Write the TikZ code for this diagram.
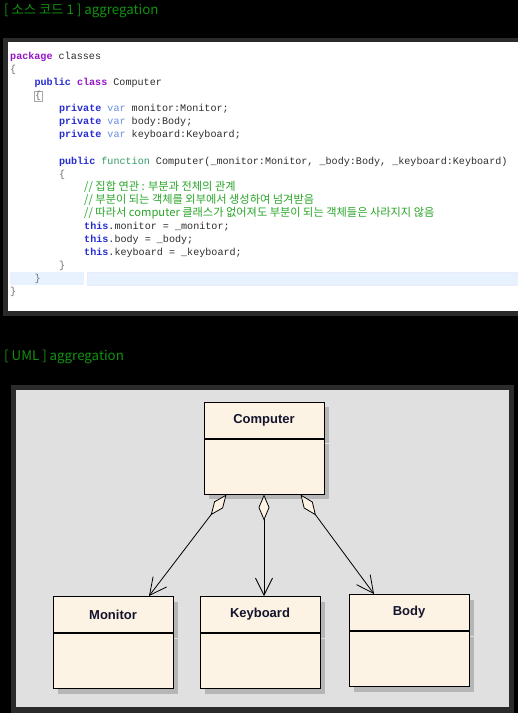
\documentclass[tikz,border=0pt]{standalone}
\usepackage{fontspec}
\setmainfont{Liberation Sans}
\newfontfamily\codefont{Liberation Mono}
\newfontfamily\krfont{Noto Sans CJK KR}
\usepackage{xcolor}
\usetikzlibrary{arrows.meta,positioning,shadows}

\definecolor{titlegreen}{RGB}{16,145,16}
\definecolor{kwpurple}{RGB}{150,20,200}
\definecolor{kwblue}{RGB}{40,45,210}
\definecolor{kwvar}{RGB}{105,140,225}
\definecolor{kwfunc}{RGB}{51,153,102}
\definecolor{cmtgreen}{RGB}{40,165,40}
\definecolor{codetext}{RGB}{45,45,45}
\definecolor{bracegray}{RGB}{110,110,110}
\definecolor{framegray}{RGB}{43,43,43}
\definecolor{hlblue}{RGB}{232,242,254}
\definecolor{umlbg}{RGB}{224,224,224}
\definecolor{clsfill}{RGB}{253,243,228}
\definecolor{clsshadow}{RGB}{182,182,182}
\definecolor{clstext}{RGB}{20,20,45}

% keyword helpers for the listing
\newcommand{\kwpk}[1]{\textcolor{kwpurple}{\bfseries #1}}
\newcommand{\kwpb}[1]{\textcolor{kwblue}{\bfseries #1}}
\newcommand{\kwvr}[1]{\textcolor{kwvar}{#1}}
\newcommand{\kwfn}[1]{\textcolor{kwfunc}{#1}}
\newcommand{\brc}[1]{\textcolor{bracegray}{#1}}

\begin{document}
\begin{tikzpicture}[
  x=1pt, y=-1pt,
  title/.style={anchor=west, inner sep=0pt, text=titlegreen, font=\krfont\fontsize{13.3}{15}\selectfont},
  code/.style={anchor=west, inner sep=0pt, text=codetext, font=\codefont\fontsize{10.1}{12}\selectfont},
  cmt/.style={anchor=west, inner sep=0pt, text=cmtgreen, font=\krfont\fontsize{11.2}{13}\selectfont},
  clsshade/.style={drop shadow={shadow xshift=5pt, shadow yshift=-5pt, fill=clsshadow, opacity=1}},
  clshead/.style={draw, line width=1pt, fill=clsfill, minimum width=120pt, minimum height=36pt, inner sep=0pt, text=clstext, font=\bfseries\fontsize{13}{15}\selectfont, clsshade},
  clsbody/.style={draw, line width=1pt, fill=clsfill, minimum width=120pt, minimum height=55pt, inner sep=0pt, clsshade},
  agg/.style={{Diamond[fill=clsfill, length=26pt, width=11pt]}-{Straight Barb[length=17pt, width=17pt]}, line width=0.8pt}
]
\useasboundingbox (0,0) rectangle (518,713);
\fill[black] (0,0) rectangle (518,713);

% source panel
\node[title] (t1) at (4,11) {[ 소스 코드 1 ] aggregation};
\fill[framegray] (3,38) rectangle (518,316);
\fill[white] (8,42) rectangle (518,311);
\fill[hlblue] (10,272) rectangle (84,285);
\filldraw[fill=hlblue, draw=blue!8] (87,272) rectangle (518,285);

\node[code] (c0) at (10,57) {\kwpk{package} classes};
\node[code] (c1) at (10,70.1) {\brc{\{}};
\node[code] (c2) at (34.4,83.1) {\kwpb{public} \kwpk{class} Computer};
\node[code, draw=bracegray!60, line width=0.4pt, inner sep=0.6pt] (c3) at (34.4,96.2) {\brc{\{}};
\node[code] (c4) at (58.8,109.2) {\kwpb{private} \kwvr{var} monitor:Monitor;};
\node[code] (c5) at (58.8,122.3) {\kwpb{private} \kwvr{var} body:Body;};
\node[code] (c6) at (58.8,135.3) {\kwpb{private} \kwvr{var} keyboard:Keyboard;};
\node[code] (c8) at (58.8,161.4) {\kwpb{public} \kwfn{function} Computer(\_monitor:Monitor, \_body:Body, \_keyboard:Keyboard)};
\node[code] (c9) at (58.8,174.5) {\brc{\{}};
\node[cmt] (c10) at (84,186.5) {// 집합 연관 : 부분과 전체의 관계};
\node[cmt] (c11) at (84,200) {// 부분이 되는 객체를 외부에서 생성하여 넘겨받음};
\node[cmt] (c12) at (84,213.3) {// 따라서 computer 클래스가 없어져도 부분이 되는 객체들은 사라지지 않음};
\node[code] (c13) at (84,226.7) {\kwpb{this}.monitor = \_monitor;};
\node[code] (c14) at (84,239.7) {\kwpb{this}.body = \_body;};
\node[code] (c15) at (84,252.8) {\kwpb{this}.keyboard = \_keyboard;};
\node[code] (c16) at (58.8,265.8) {\brc{\}}};
\node[code] (c17) at (34.4,278.9) {\brc{\}}};
\node[code] (c18) at (10,291.9) {\brc{\}}};

% uml panel
\node[title] (t2) at (4,357) {[ UML ] aggregation};
\fill[framegray] (11,385) rectangle (514,713);
\fill[umlbg] (16,390) rectangle (509,707);

\node[clshead] (comp) at (264,420) {Computer};
\node[clsbody, below=0pt of comp] (compb) {};

\node[clshead] (kbd) at (260,614.5) {Keyboard};
\node[clsbody, below=0pt of kbd] (kbdb) {};
\node[clshead, left=26pt of kbd] (mon) {Monitor};
\node[clsbody, below=0pt of mon] (monb) {};
\node[clshead, right=28pt of kbd, yshift=2pt] (body) {Body};
\node[clsbody, below=0pt of body] (bodyb) {};

\draw[agg] ([xshift=23pt]compb.south west) -- ([xshift=36pt]mon.north);
\draw[agg] (compb.south) -- ([xshift=4pt]kbd.north);
\draw[agg] ([xshift=-24pt]compb.south east) -- ([xshift=-35pt]body.north);
\end{tikzpicture}
\end{document}
